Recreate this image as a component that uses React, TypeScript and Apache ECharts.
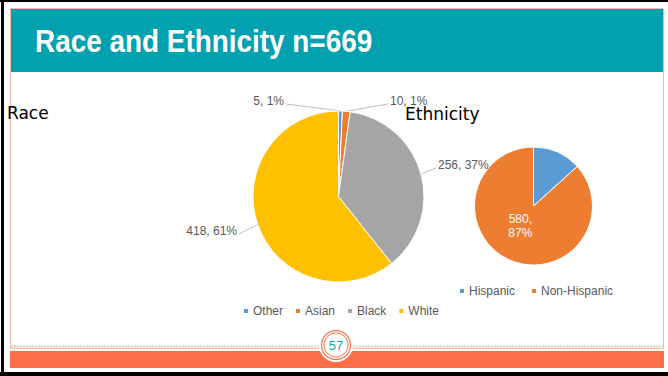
import React, { useEffect, useRef } from 'react';
import * as echarts from 'echarts';

// ---- data ----
const raceCategories = ['Other', 'Asian', 'Black', 'White'];
const raceValues = [5, 10, 256, 418];
const ethnicityCategories = ['Hispanic', 'Non-Hispanic'];
const ethnicityValues = [89, 580];
const titleText = 'Race and Ethnicity n=669';
const raceHeading = 'Race';
const ethnicityHeading = 'Ethnicity';
const pageNumber = '57';

// ---- styles ----
const raceColors = ['#5B9BD5', '#ED7D31', '#A5A5A5', '#FFC000'];
const ethnicityColors = ['#5B9BD5', '#ED7D31'];
const TEAL = '#01A1B0';
const ORANGE = '#FC6F48';
const PINK = '#F8B8A6';
const GREY_TEXT = '#595959';

// label placement for the race pie (label anchor positions)
const raceLabelPlacement: { x: number; y: number; align: 'left' | 'right' }[] = [
  { x: 284, y: 101, align: 'right' },
  { x: 390, y: 101, align: 'left' },
  { x: 438, y: 165, align: 'left' },
  { x: 237, y: 231, align: 'right' },
];

export default function App() {
  const ref = useRef<HTMLDivElement>(null);

  useEffect(() => {
    if (!ref.current) return;
    const chart = echarts.init(ref.current, undefined, { renderer: 'svg' });

    const option: any = {
      animation: false,
      backgroundColor: '#ffffff',
      legend: [
        {
          data: raceCategories,
          left: 242,
          top: 305,
          padding: 0,
          icon: 'rect',
          itemWidth: 6,
          itemHeight: 6,
          itemGap: 11,
          selectedMode: false,
          textStyle: { color: GREY_TEXT, fontSize: 12, fontFamily: 'Liberation Sans', padding: [0, 0, 0, -1] },
        },
        {
          data: ethnicityCategories,
          left: 458,
          top: 285,
          padding: 0,
          icon: 'rect',
          itemWidth: 6,
          itemHeight: 6,
          itemGap: 15,
          selectedMode: false,
          textStyle: { color: GREY_TEXT, fontSize: 12, fontFamily: 'Liberation Sans', padding: [0, 0, 0, -1] },
        },
      ],
      graphic: [
        // black frame
        { type: 'rect', shape: { x: 0, y: 0, width: 668, height: 2 }, style: { fill: '#000' } },
        { type: 'rect', shape: { x: 1, y: 0, width: 3, height: 376 }, style: { fill: '#000' } },
        { type: 'rect', shape: { x: 0, y: 372, width: 668, height: 4 }, style: { fill: '#000' } },
        // pink outline
        { type: 'rect', shape: { x: 10.5, y: 8.5, width: 653, height: 340 }, style: { fill: 'none', stroke: PINK, lineWidth: 1 } },
        // teal header
        { type: 'rect', shape: { x: 11, y: 9, width: 652, height: 63 }, style: { fill: TEAL } },
        {
          type: 'text',
          x: 35,
          y: 41,
          scaleX: 0.9,
          style: {
            text: titleText,
            fill: '#ffffff',
            font: 'bold 31px "Liberation Sans", Arial, sans-serif',
            verticalAlign: 'middle',
          },
        },
        // headings
        {
          type: 'text', x: 7, y: 113,
          style: { text: raceHeading, fill: '#000', font: '17px "DejaVu Sans", sans-serif', verticalAlign: 'middle' },
        },
        {
          type: 'text', x: 405, y: 114,
          style: { text: ethnicityHeading, fill: '#000', font: '17px "DejaVu Sans", sans-serif', verticalAlign: 'middle' },
        },
        // bottom dotted line & orange bar
        { type: 'line', shape: { x1: 11, y1: 346.5, x2: 663, y2: 346.5 }, style: { stroke: '#FAC9BC', lineWidth: 2, lineDash: [2, 1] } },
        { type: 'rect', shape: { x: 10, y: 351, width: 654, height: 17 }, style: { fill: ORANGE } },
        // page-number badge
        { type: 'circle', shape: { cx: 336, cy: 345, r: 17 }, style: { fill: '#fff' } },
        { type: 'circle', shape: { cx: 336, cy: 345, r: 14.5 }, style: { fill: 'none', stroke: ORANGE, lineWidth: 1.2 } },
        { type: 'circle', shape: { cx: 336, cy: 345, r: 12 }, style: { fill: 'none', stroke: ORANGE, lineWidth: 1 } },
        {
          type: 'text', x: 336, y: 345,
          style: { text: pageNumber, fill: '#1AA3B5', font: '13px "Liberation Sans", Arial, sans-serif', align: 'center', verticalAlign: 'middle' },
        },
      ],
      series: [
        {
          type: 'pie',
          name: 'Race',
          center: [338.5, 196.5],
          radius: 85.5,
          startAngle: 90,
          clockwise: true,
          avoidLabelOverlap: false,
          minShowLabelAngle: 0,
          percentPrecision: 0,
          silent: true,
          itemStyle: { borderColor: '#ffffff', borderWidth: 1 },
          label: {
            show: true,
            position: 'outside',
            formatter: '{c}, {d}%',
            color: GREY_TEXT,
            fontSize: 12,
            fontFamily: 'Liberation Sans',
          },
          labelLine: { show: true, length: 10, length2: 5, lineStyle: { color: '#BFBFBF', width: 1 } },
          labelLayout: (params: any) => {
            const p = raceLabelPlacement[params.dataIndex];
            const anchor = params.labelLinePoints ? params.labelLinePoints[0] : null;
            const end = [p.align === 'right' ? p.x + 2 : p.x - 2, p.y + 3];
            const res: any = { x: p.x, y: p.y, align: p.align, verticalAlign: 'middle' };
            if (anchor) res.labelLinePoints = [anchor, end];
            return res;
          },
          data: raceCategories.map((name, i) => ({
            name,
            value: raceValues[i],
            itemStyle: { color: raceColors[i] },
          })),
        },
        {
          type: 'pie',
          name: 'Ethnicity',
          center: [533.5, 206],
          radius: 59,
          startAngle: 90,
          clockwise: true,
          percentPrecision: 0,
          silent: true,
          itemStyle: { borderColor: '#ffffff', borderWidth: 1 },
          label: {
            show: true,
            position: 'inside',
            formatter: '{c},\n{d}%',
            color: '#ffffff',
            fontSize: 12,
            lineHeight: 14,
            align: 'left',
            fontFamily: 'Liberation Sans',
          },
          labelLayout: { dy: -10 },
          labelLine: { show: false },
          data: ethnicityCategories.map((name, i) => ({
            name,
            value: ethnicityValues[i],
            itemStyle: { color: ethnicityColors[i] },
            label: { show: i === 1 },
          })),
        },
      ],
    };

    chart.setOption(option);
    return () => chart.dispose();
  }, []);

  return (
    <div
      ref={ref}
      style={{ position: 'absolute', left: 0, top: 0, width: 668, height: 376 }}
    />
  );
}
